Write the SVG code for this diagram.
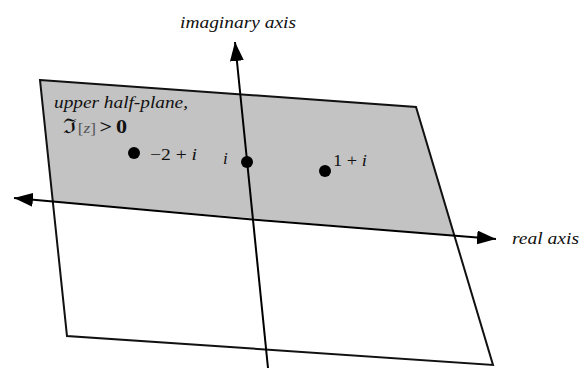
<svg xmlns="http://www.w3.org/2000/svg" width="585" height="368" viewBox="0 0 585 368">
<style>
.ax{stroke:#000;stroke-width:2;fill:none}
.edge{stroke:#111;stroke-width:2;fill:none;stroke-linejoin:miter}
text{fill:#111}
.it{font-style:italic}
.dot{fill:#000}
</style>
<defs>
<marker id="ah" markerUnits="userSpaceOnUse" markerWidth="20" markerHeight="14" refX="19" refY="7" orient="auto">
<path d="M0,0 L19,7 L0,14 Z" fill="#000"/>
</marker>
</defs>
<rect width="585" height="368" fill="#fff"/>
<g id="plane">
<polygon points="40,80 416,107 493,365 67,336" fill="#fff"/>
<polygon points="40,80 416,107 454.3,235.5 52.8,201.3" fill="#c3c3c3"/>
<polygon class="edge" points="40,80 416,107 493,365 67,336"/>
</g>
<g id="connectors">
<line class="ax" x1="255" y1="219.7" x2="14" y2="198" marker-end="url(#ah)"/>
<line class="ax" x1="255" y1="219.7" x2="496" y2="239" marker-end="url(#ah)"/>
<line class="ax" x1="268" y1="368" x2="235" y2="42" marker-end="url(#ah)"/>
</g>
<g font-family="Liberation Serif, DejaVu Serif, serif" font-size="16">
<g id="label-imag"><text class="it" x="180" y="28" textLength="116" lengthAdjust="spacingAndGlyphs">imaginary axis</text></g>
<g id="label-real"><text class="it" x="512" y="244" textLength="67" lengthAdjust="spacingAndGlyphs">real axis</text></g>
<g id="label-upper">
<text class="it" x="54" y="108" textLength="134" lengthAdjust="spacingAndGlyphs">upper half-plane,</text>
<text x="63" y="133" textLength="64" lengthAdjust="spacingAndGlyphs"><tspan font-size="20">ℑ</tspan><tspan font-size="14" fill="#555" dx="1">[</tspan><tspan font-size="14" fill="#555" class="it">z</tspan><tspan font-size="14" fill="#555">]</tspan><tspan font-weight="bold" font-size="18" dx="3">&gt;</tspan><tspan font-weight="bold" font-size="18" dx="3">0</tspan></text>
</g>
<g id="point-m2i">
<circle class="dot" cx="134" cy="153" r="6"/>
<text x="150" y="160" font-size="17" textLength="47" lengthAdjust="spacingAndGlyphs">−2 + <tspan class="it">i</tspan></text>
</g>
<g id="point-i">
<circle class="dot" cx="247" cy="162" r="6"/>
<text class="it" x="223" y="164" font-size="17">i</text>
</g>
<g id="point-1i">
<circle class="dot" cx="325" cy="171" r="6"/>
<text x="333" y="166" font-size="17" textLength="34" lengthAdjust="spacingAndGlyphs">1 + <tspan class="it">i</tspan></text>
</g>
</g>
</svg>
